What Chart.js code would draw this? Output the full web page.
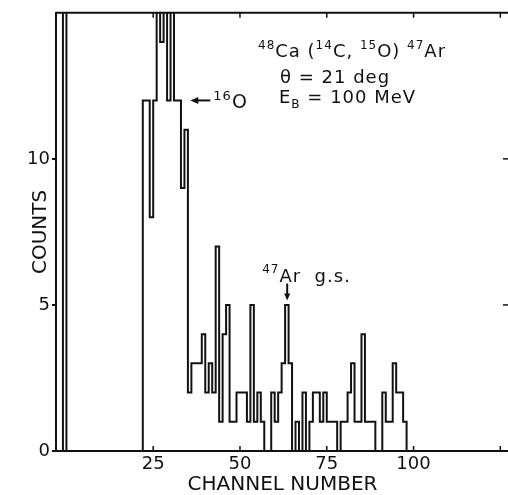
<!DOCTYPE html>
<html>
<head>
<meta charset="utf-8">
<script src="https://cdn.jsdelivr.net/npm/chart.js@4.4.1/dist/chart.umd.min.js"></script>
<style>
html, body { margin: 0; padding: 0; background: #fff; overflow: hidden; }
#wrap { width: 508px; height: 495px; overflow: hidden; }
</style>
</head>
<body>
<div id="wrap"><canvas id="spectrum" width="510" height="495"></canvas></div>
<script>
var ink = '#111';
var fontName = '"DejaVu Sans", sans-serif';

// off-scale spike at the very start (count runs past the top of the frame)
var lowStart = -1;
var lowCounts = [20];

// main group, one count per channel starting at channel 22 (20 = off scale)
var mainStart = 22;
var mainCounts = [12, 12, 8, 12, 20, 14, 20, 12, 20, 12, 12, 9, 11, 2, 3, 3, 3, 4, 2, 3,
                  2, 7, 1, 4, 5, 1, 1, 2, 2, 2, 1, 5, 1, 2, 1, 0, 0, 2, 1, 2,
                  3, 5, 3, 0, 1, 0, 2, 0, 1, 2, 2, 1, 2, 1, 1, 1, 0, 1, 1, 2,
                  3, 1, 1, 4, 1, 1, 1, 0, 0, 2, 1, 1, 3, 2, 2, 1];

var xTicks = [25, 50, 75, 100, 125];
var xLabels = ['25', '50', '75', '100', ''];
var yTicks = [0, 5, 10];


function stepPoints(start, values) {
    var pts = [{x: start, y: 0}];
    values.forEach(function(v, i) {
        pts.push({x: start + i, y: v});
    });
    pts.push({x: start + values.length, y: 0});
    return pts;
}

function drawParts(ctx, x, y, parts, size) {
    parts.forEach(function(p) {
        var s = (p.sup || p.sub) ? Math.round(size * 0.66) : size;
        ctx.font = s + 'px ' + fontName;
        var dy = p.sup ? -size * 0.45 : (p.sub ? size * 0.3 : 0);
        ctx.fillText(p.t, x, y + dy);
        x += ctx.measureText(p.t).width;
    });
}

var annotate = {
    id: 'annotate',
    afterDraw: function(chart) {
        var ctx = chart.ctx, a = chart.chartArea;
        var xs = chart.scales.x, ys = chart.scales.y;
        ctx.save();
        ctx.strokeStyle = ink;
        ctx.fillStyle = ink;

        // top and right side of the box
        ctx.lineWidth = 2;
        ctx.beginPath();
        ctx.moveTo(a.left, a.top);
        ctx.lineTo(a.right, a.top);
        ctx.lineTo(a.right, a.bottom);
        ctx.stroke();

        // inward ticks
        ctx.lineWidth = 1.5;
        xTicks.forEach(function(v) {
            var px = xs.getPixelForValue(v);
            ctx.beginPath();
            ctx.moveTo(px, a.bottom);
            ctx.lineTo(px, a.bottom - 5);
            ctx.moveTo(px, a.top);
            ctx.lineTo(px, a.top + 5);
            ctx.stroke();
        });
        yTicks.forEach(function(v) {
            var py = ys.getPixelForValue(v);
            ctx.beginPath();
            ctx.moveTo(a.right, py);
            ctx.lineTo(a.right - 6, py);
            ctx.stroke();
        });

        ctx.letterSpacing = '1px';
        ctx.textBaseline = 'alphabetic';
        ctx.textAlign = 'left';

        // reaction label
        drawParts(ctx, 258, 57, [
            {t: '48', sup: true}, {t: 'Ca ('}, {t: '14', sup: true}, {t: 'C, '},
            {t: '15', sup: true}, {t: 'O) '}, {t: '47', sup: true}, {t: 'Ar'}
        ], 18);
        drawParts(ctx, 280, 83, [{t: '\u03b8 = 21 deg'}], 18);
        drawParts(ctx, 279, 103, [{t: 'E'}, {t: 'B', sub: true}, {t: ' = 100 MeV'}], 18);

        // 16O arrow
        var ox = xs.getPixelForValue(35.7), oy = ys.getPixelForValue(12);
        ctx.lineWidth = 2;
        ctx.beginPath();
        ctx.moveTo(ox + 4, oy);
        ctx.lineTo(ox + 20, oy);
        ctx.stroke();
        ctx.beginPath();
        ctx.moveTo(ox, oy);
        ctx.lineTo(ox + 8, oy - 3.5);
        ctx.lineTo(ox + 8, oy + 3.5);
        ctx.closePath();
        ctx.fill();
        drawParts(ctx, ox + 23, oy + 8, [{t: '16', sup: true}, {t: 'O'}], 19);

        // 47Ar ground state arrow
        var gx = xs.getPixelForValue(63.6), gy = ys.getPixelForValue(5.15);
        ctx.beginPath();
        ctx.moveTo(gx, gy - 17);
        ctx.lineTo(gx, gy - 4);
        ctx.stroke();
        ctx.beginPath();
        ctx.moveTo(gx, gy);
        ctx.lineTo(gx - 3, gy - 7);
        ctx.lineTo(gx + 3, gy - 7);
        ctx.closePath();
        ctx.fill();
        drawParts(ctx, gx - 25, gy - 19, [{t: '47', sup: true}, {t: 'Ar  g.s.'}], 18);

        ctx.restore();
    }
};

var tickFont = {family: fontName, size: 18};

new Chart(document.getElementById('spectrum'), {
    type: 'line',
    data: {
        datasets: [{
            data: stepPoints(lowStart, lowCounts),
            borderColor: ink,
            borderWidth: 2,
            pointRadius: 0,
            stepped: true,
            fill: false
        }, {
            data: stepPoints(mainStart, mainCounts),
            borderColor: ink,
            borderWidth: 2,
            pointRadius: 0,
            stepped: true,
            fill: false
        }]
    },
    options: {
        responsive: false,
        animation: false,
        layout: {padding: {top: 10, right: 1, left: 0, bottom: 0}},
        plugins: {legend: {display: false}, tooltip: {enabled: false}},
        scales: {
            x: {
                type: 'linear',
                min: -3,
                max: 127.5,
                afterBuildTicks: function(scale) {
                    scale.ticks = xTicks.map(function(v) { return {value: v}; });
                },
                afterFit: function(scale) { scale.height = 44; },
                grid: {display: false, drawTicks: false},
                border: {display: true, color: ink, width: 2},
                ticks: {
                    color: ink,
                    font: tickFont,
                    padding: 3,
                    maxRotation: 0,
                    autoSkip: false,
                    callback: function(v) { return xLabels[xTicks.indexOf(v)]; }
                },
                title: {
                    display: true,
                    text: 'CHANNEL NUMBER',
                    color: ink,
                    font: {family: fontName, size: 20, lineHeight: 1},
                    padding: {top: 0, bottom: 0}
                }
            },
            y: {
                min: 0,
                max: 15,
                afterBuildTicks: function(scale) {
                    scale.ticks = yTicks.map(function(v) { return {value: v}; });
                },
                afterFit: function(scale) { scale.width = 56; },
                grid: {drawOnChartArea: false, drawTicks: true, tickLength: 4, color: ink, lineWidth: 2},
                border: {display: true, color: ink, width: 2},
                ticks: {color: ink, font: tickFont, padding: 2},
                title: {
                    display: true,
                    text: 'COUNTS',
                    color: ink,
                    font: {family: fontName, size: 20, lineHeight: 1},
                    padding: {top: 31, bottom: 0}
                }
            }
        }
    },
    plugins: [annotate]
});
</script>
</body>
</html>
